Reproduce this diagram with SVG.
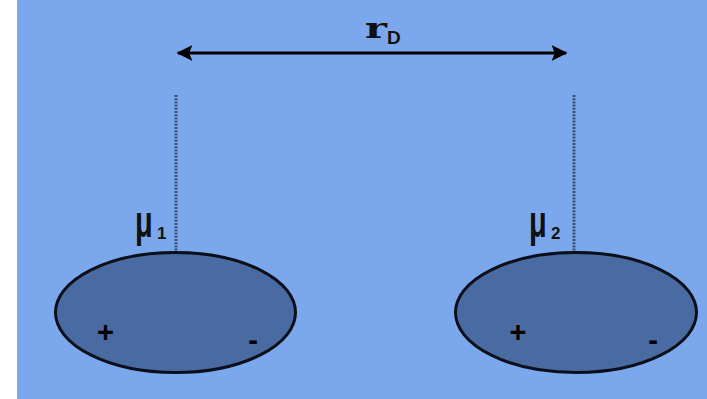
<svg xmlns="http://www.w3.org/2000/svg" width="707" height="399" viewBox="0 0 707 399">
<style>
.bg{fill:#7BA8EC}
.dip{fill:#4A6AA2;stroke:#0a0f1a;stroke-width:3}
.guide{stroke:#3e5072;stroke-width:3;stroke-dasharray:2 1.2}
.mu{font-family:"Liberation Sans",Arial,sans-serif;font-weight:bold;fill:#111}
.sub{font-family:"Liberation Sans",Arial,sans-serif;font-weight:bold;fill:#111}
.sign{font-family:"Liberation Sans",Arial,sans-serif;font-weight:bold;fill:#000;text-anchor:middle}
</style>
<defs>
<marker id="ah" viewBox="0 0 10 10" refX="9" refY="5" markerWidth="5" markerHeight="5" orient="auto-start-reverse" markerUnits="strokeWidth">
<path d="M0,0 L10,5 L0,10 L2,5 Z" fill="#000"/>
</marker>
</defs>
<rect x="0" y="0" width="707" height="399" fill="#fff"/>
<rect class="bg" x="17" y="0" width="690" height="399"/>
<g id="connectors">
<line x1="178" y1="53" x2="566" y2="53" stroke="#000" stroke-width="3.2" marker-start="url(#ah)" marker-end="url(#ah)"/>
<line class="guide" x1="176" y1="95" x2="176" y2="252"/>
<line class="guide" x1="574" y1="95" x2="574" y2="252"/>
</g>
<g id="distance">
<text x="365" y="38" font-family="'DejaVu Serif','Liberation Serif',serif" font-weight="bold" font-size="27" fill="#111" textLength="22" lengthAdjust="spacingAndGlyphs">r</text>
<text class="sub" x="387" y="44" font-size="19">D</text>
</g>
<g id="dipole1">
<ellipse class="dip" cx="175.500" cy="312.500" rx="120" ry="60"/>
<text class="mu" transform="translate(135,237) scale(1,1.55)" font-size="29">μ</text>
<text class="sub" x="157" y="239" font-size="17">1</text>
<text class="sign" x="105.500" y="342" font-size="29">+</text>
<text class="sign" x="253" y="350" font-size="29">-</text>
</g>
<g id="dipole2">
<ellipse class="dip" cx="576" cy="312.500" rx="120.500" ry="60"/>
<text class="mu" transform="translate(529,237) scale(1,1.55)" font-size="29">μ</text>
<text class="sub" x="551" y="239" font-size="17">2</text>
<text class="sign" x="518" y="342" font-size="29">+</text>
<text class="sign" x="653" y="350" font-size="29">-</text>
</g>
</svg>
